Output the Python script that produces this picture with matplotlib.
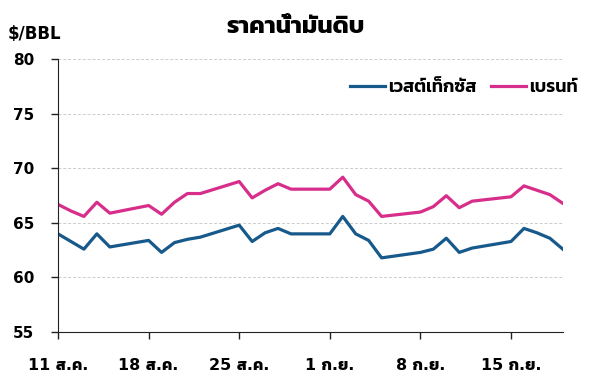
import numpy as np
import matplotlib
matplotlib.use('Agg')
from matplotlib import pyplot as plt

dates = ['2025-08-11', '2025-08-12', '2025-08-13', '2025-08-14', '2025-08-15',
         '2025-08-18', '2025-08-19', '2025-08-20', '2025-08-21', '2025-08-22',
         '2025-08-25', '2025-08-26', '2025-08-27', '2025-08-28', '2025-08-29',
         '2025-09-01', '2025-09-02', '2025-09-03', '2025-09-04', '2025-09-05',
         '2025-09-08', '2025-09-09', '2025-09-10', '2025-09-11', '2025-09-12',
         '2025-09-15', '2025-09-16', '2025-09-17', '2025-09-18', '2025-09-19']
wti = [64.0, 63.3, 62.6, 64.0, 62.8,
       63.4, 62.3, 63.2, 63.5, 63.7,
       64.8, 63.3, 64.1, 64.5, 64.0,
       64.0, 65.6, 64.0, 63.4, 61.8,
       62.3, 62.6, 63.6, 62.3, 62.7,
       63.3, 64.5, 64.1, 63.6, 62.6]
brent = [66.7, 66.1, 65.6, 66.9, 65.9,
         66.6, 65.8, 66.9, 67.7, 67.7,
         68.8, 67.3, 68.0, 68.6, 68.1,
         68.1, 69.2, 67.6, 67.0, 65.6,
         66.0, 66.5, 67.5, 66.4, 67.0,
         67.4, 68.4, 68.0, 67.6, 66.8]
tick_dates = ['2025-08-11', '2025-08-18', '2025-08-25', '2025-09-01', '2025-09-08', '2025-09-15']
tick_labels = ['11 ส.ค.', '18 ส.ค.', '25 ส.ค.', '1 ก.ย.', '8 ก.ย.', '15 ก.ย.']
yticks = [55, 60, 65, 70, 75, 80]

x = np.array(dates, dtype='datetime64[D]')
# digits in DejaVu, Thai glyphs fall back to Kanit
thai = ['DejaVu Sans', 'Kanit']

fig = plt.figure(figsize=(6, 3.76), dpi=100)
ax = fig.add_axes([0.0967, 0.117, 0.8413, 0.725])

ax.plot(x, wti, color='#17598a', lw=2.3, label='เวสต์เท็กซัส')
ax.plot(x, brent, color='#d62e8a', lw=2.3, label='เบรนท์')

ax.set_ylim(55, 80)
ax.set_yticks(yticks)
ax.set_xlim(np.datetime64('2025-08-11'), np.datetime64('2025-09-19'))
ax.set_xticks(np.array(tick_dates, dtype='datetime64[D]'))
ax.set_xticklabels(tick_labels)

for lab in ax.get_yticklabels():
    lab.set_family(thai)
    lab.set_fontweight('bold')
    lab.set_fontsize(11)
for lab in ax.get_xticklabels():
    lab.set_family(thai)
    lab.set_fontweight('bold')
    lab.set_fontsize(11.5)

ax.tick_params(axis='both', direction='out', length=5, width=1, color='#222222')
ax.tick_params(axis='x', pad=14)
ax.tick_params(axis='y', pad=12)

ax.grid(axis='y', linestyle=(0, (3, 2)), color='#cccccc', lw=0.7)
ax.spines['top'].set_visible(False)
ax.spines['right'].set_visible(False)
ax.spines['left'].set_color('#222222')
ax.spines['bottom'].set_color('#222222')

leg = fig.legend(loc='center left', bbox_to_anchor=(350 / 600, 0.768), ncol=2, frameon=False,
                 borderpad=0, borderaxespad=0,
                 handlelength=1.95, handletextpad=0.15, columnspacing=0.8,
                 prop={'family': thai, 'size': 13, 'weight': 'semibold'})

fig.text(0.493, 0.93, 'ราคาน้ำมันดิบ', ha='center', va='center',
         fontsize=17.5, fontweight='bold', family=thai)
fig.text(0.012, 0.91, '$/BBL', ha='left', va='center',
         fontsize=12, fontweight='bold', family=thai)

fig.savefig('out.png', dpi=100)
